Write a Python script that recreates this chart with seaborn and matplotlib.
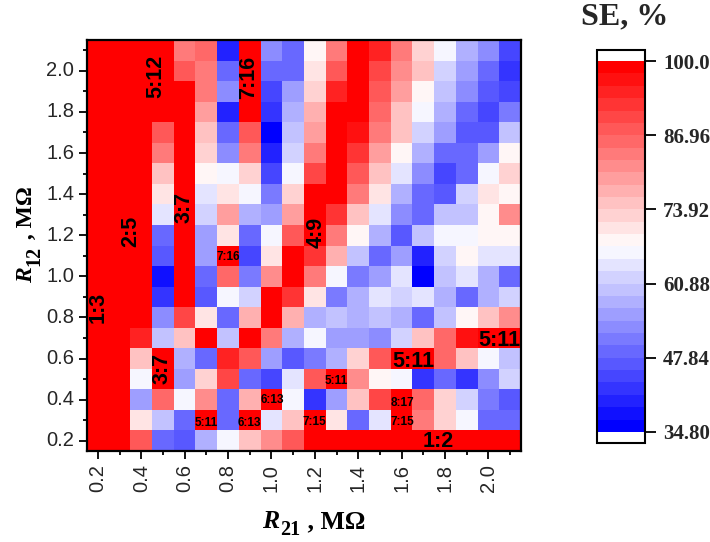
import numpy as np
import pandas as pd
import matplotlib
matplotlib.use("Agg")
import matplotlib.pyplot as plt
import seaborn as sns
from matplotlib.colors import ListedColormap

# Resistances (MΩ)
r21 = [0.2, 0.3, 0.4, 0.5, 0.6, 0.7, 0.8, 0.9, 1.0, 1.1,
       1.2, 1.3, 1.4, 1.5, 1.6, 1.7, 1.8, 1.9, 2.0, 2.1]
r12 = [2.1, 2.0, 1.9, 1.8, 1.7, 1.6, 1.5, 1.4, 1.3, 1.2,
       1.1, 1.0, 0.9, 0.8, 0.7, 0.6, 0.5, 0.4, 0.3, 0.2]

# SE, % — one list per R12 row (top row R12 = 2.1), columns follow r21
se_r12_2_1 = [100, 100, 100, 100, 83.7, 85.9, 40.2, 100, 53.3, 49.0, 68.5, 83.7, 100, 94.6, 83.7, 72.8, 66.3, 57.6, 53.3, 44.6]
se_r12_2_0 = [100, 100, 100, 100, 88.0, 83.7, 49.0, 100, 49.0, 49.0, 70.7, 88.0, 100, 90.2, 81.5, 75.0, 62.0, 55.5, 49.0, 42.4]
se_r12_1_9 = [100, 100, 100, 100, 100, 83.7, 53.3, 100, 44.6, 55.5, 72.8, 94.6, 100, 88.0, 79.4, 68.5, 59.8, 53.3, 46.8, 44.6]
se_r12_1_8 = [100, 100, 100, 100, 100, 79.4, 40.2, 100, 42.4, 57.6, 77.2, 100, 100, 85.9, 75.0, 66.3, 57.6, 49.0, 44.6, 51.1]
se_r12_1_7 = [100, 100, 100, 88.0, 100, 75.0, 49.0, 88.0, 35.9, 59.8, 79.4, 100, 96.7, 83.7, 75.0, 62.0, 55.5, 46.8, 46.8, 59.8]
se_r12_1_6 = [100, 100, 100, 83.7, 100, 72.8, 53.3, 83.7, 40.2, 62.0, 83.7, 100, 92.4, 79.4, 68.5, 57.6, 49.0, 49.0, 55.5, 68.5]
se_r12_1_5 = [100, 100, 100, 75.0, 100, 68.5, 66.3, 72.8, 44.6, 66.3, 90.2, 100, 88.0, 75.0, 64.2, 53.3, 44.6, 49.0, 66.3, 72.8]
se_r12_1_4 = [100, 100, 100, 70.7, 100, 64.2, 70.7, 66.3, 51.1, 72.8, 100, 100, 83.7, 70.7, 57.6, 49.0, 46.8, 62.0, 70.7, 68.5]
se_r12_1_3 = [100, 100, 100, 64.2, 100, 62.0, 79.4, 57.6, 55.5, 79.4, 100, 92.4, 75.0, 64.2, 53.3, 49.0, 59.8, 59.8, 68.5, 81.5]
se_r12_1_2 = [100, 100, 100, 49.0, 100, 55.5, 70.7, 49.0, 66.3, 88.0, 100, 83.7, 68.5, 57.6, 46.8, 59.8, 66.3, 66.3, 68.5, 68.5]
se_r12_1_1 = [100, 100, 100, 46.8, 100, 55.5, 100, 44.6, 70.7, 100, 92.4, 77.2, 59.8, 49.0, 55.5, 40.2, 62.0, 68.5, 64.2, 64.2]
se_r12_1_0 = [100, 100, 100, 38.1, 100, 49.0, 85.9, 51.1, 81.5, 100, 83.7, 66.3, 51.1, 55.5, 64.2, 35.9, 59.8, 64.2, 57.6, 49.0]
se_r12_0_9 = [100, 100, 100, 42.4, 100, 46.8, 66.3, 62.0, 100, 92.4, 70.7, 51.1, 57.6, 64.2, 62.0, 64.2, 57.6, 49.0, 57.6, 62.0]
se_r12_0_8 = [100, 100, 100, 53.3, 90.2, 70.7, 49.0, 77.2, 100, 77.2, 57.6, 59.8, 57.6, 59.8, 57.6, 49.0, 59.8, 68.5, 75.0, 81.5]
se_r12_0_7 = [100, 100, 94.6, 59.8, 75.0, 100, 59.8, 100, 83.7, 57.6, 66.3, 55.5, 55.5, 53.3, 62.0, 75.0, 85.9, 96.7, 100, 100]
se_r12_0_6 = [100, 100, 75.0, 100, 57.6, 49.0, 94.6, 88.0, 55.5, 46.8, 51.1, 57.6, 72.8, 88.0, 100, 100, 85.9, 75.0, 66.3, 59.8]
se_r12_0_5 = [100, 100, 66.3, 100, 55.5, 72.8, 90.2, 49.0, 44.6, 64.2, 88.0, 100, 81.5, 68.5, 66.3, 42.4, 49.0, 42.4, 53.3, 62.0]
se_r12_0_4 = [100, 100, 55.5, 85.9, 66.3, 81.5, 49.0, 77.2, 100, 66.3, 42.4, 55.5, 75.0, 90.2, 100, 85.9, 72.8, 62.0, 51.1, 46.8]
se_r12_0_3 = [100, 100, 70.7, 59.8, 49.0, 100, 49.0, 100, 64.2, 75.0, 100, 70.7, 49.0, 64.2, 100, 83.7, 72.8, 66.3, 49.0, 49.0]
se_r12_0_2 = [100, 100, 88.0, 49.0, 46.8, 57.6, 66.3, 75.0, 81.5, 88.0, 100, 100, 100, 100, 100, 100, 100, 100, 100, 100]

se_rows = [se_r12_2_1, se_r12_2_0, se_r12_1_9, se_r12_1_8, se_r12_1_7,
           se_r12_1_6, se_r12_1_5, se_r12_1_4, se_r12_1_3, se_r12_1_2,
           se_r12_1_1, se_r12_1_0, se_r12_0_9, se_r12_0_8, se_r12_0_7,
           se_r12_0_6, se_r12_0_5, se_r12_0_4, se_r12_0_3, se_r12_0_2]

# Colour scale
se_min, se_max = 34.8, 100.0
cbar_ticks = [34.80, 47.84, 60.88, 73.92, 86.96, 100.0]
cbar_ticklabels = ["34.80", "47.84", "60.88", "73.92", "86.96", "100.0"]
n_levels = 30

# Ratio labels: (text, column position, row position, rotation, size)
ratio_labels = [
    ("5:12", 3.16, 1.75, 90, 15.5),
    ("7:16", 7.45, 1.80, 90, 15.5),
    ("3:7", 4.47, 8.17, 90, 15.5),
    ("2:5", 2.03, 9.30, 90, 15.5),
    ("4:9", 10.55, 9.35, 90, 15.5),
    ("1:3", 0.53, 13.0, 90, 15.5),
    ("3:7", 3.47, 16.0, 90, 15.5),
    ("5:11", 19.0, 14.6, 0, 15.5),
    ("5:11", 15.03, 15.65, 0, 15.5),
    ("1:2", 16.2, 19.55, 0, 15.5),
    ("7:16", 6.5, 10.56, 0, 8.5),
    ("6:13", 8.53, 17.5, 0, 8.5),
    ("5:11", 5.48, 18.65, 0, 8.5),
    ("6:13", 7.5, 18.63, 0, 8.5),
    ("7:15", 10.48, 18.6, 0, 8.5),
    ("5:11", 11.48, 16.6, 0, 8.5),
    ("8:17", 14.53, 17.65, 0, 8.5),
    ("7:15", 14.53, 18.6, 0, 8.5),
]

sns.set_style("ticks")
plt.rcParams.update({
    "font.family": ["Liberation Sans", "DejaVu Sans"],
})

df = pd.DataFrame(se_rows, index=r12, columns=r21)

cmap = ListedColormap(plt.get_cmap("bwr")(np.linspace(0, 1, n_levels)))
cmap = cmap.with_extremes(over="white", under="white")

W, H = 710, 542
fig = plt.figure(figsize=(W / 100, H / 100), dpi=100)
ax = fig.add_axes([87 / W, 1 - 451 / H, 434 / W, 411 / H])
cax = fig.add_axes([597 / W, 1 - 443 / H, 48 / W, 393 / H])

sns.heatmap(df, ax=ax, cbar_ax=cax, cmap=cmap, vmin=se_min, vmax=se_max,
            linewidths=0, square=False,
            cbar_kws=dict(extend="both", extendrect=True, extendfrac=0.03,
                          ticks=cbar_ticks))

# Heatmap frame and ticks
for s in ax.spines.values():
    s.set_visible(True)
    s.set_linewidth(1.6)
    s.set_color("black")

ncol = len(r21)
nrow = len(r12)
x_major = [i + 0.5 for i in range(0, ncol, 2)]
x_minor = [i + 0.5 for i in range(1, ncol, 2)]
ax.set_xticks(x_major)
ax.set_xticks(x_minor, minor=True)
ax.set_xticklabels([f"{r21[i]:.1f}" for i in range(0, ncol, 2)],
                   rotation=90, fontsize=14.5)
y_major = [i + 0.5 for i in range(nrow - 1, -1, -2)]
y_minor = [i + 0.5 for i in range(nrow - 2, -1, -2)]
ax.set_yticks(y_major)
ax.set_yticks(y_minor, minor=True)
ax.set_yticklabels([f"{r12[i]:.1f}" for i in range(nrow - 1, -1, -2)],
                   rotation=0, fontsize=14.5)
ax.tick_params(which="major", direction="out", length=5.8, width=1.3,
               color="black", pad=3.5, bottom=True, left=True)
ax.tick_params(which="minor", direction="out", length=3.0, width=1.3,
               color="black", bottom=True, left=True)
ax.set_xlabel("")
ax.set_ylabel("")

for text, cx, cy, rot, size in ratio_labels:
    ax.text(cx, cy, text, rotation=rot, ha="center", va="center",
            fontsize=size, fontweight="bold", color="black",
            fontfamily="Liberation Sans")

# Colour bar styling
cb = ax.collections[0].colorbar
cb.outline.set_linewidth(1.5)
cb.outline.set_edgecolor("black")
cb.set_ticks(cbar_ticks, labels=cbar_ticklabels)
cb.ax.tick_params(direction="out", length=8, width=1.3, color="black", pad=5,
                  right=True)
for lab in cb.ax.get_yticklabels():
    lab.set_fontfamily("Liberation Serif")
    lab.set_fontweight("bold")
    lab.set_fontsize(15)

fig.text(625 / W, 1 - 17 / H, "SE, %", ha="center", va="center",
         fontsize=23, fontweight="bold", fontfamily="Liberation Serif")

# Axis titles: italic R with a large lowered subscript, then ", MΩ"
serif = dict(fontfamily="Liberation Serif", fontweight="bold", color="black")
main_size, sub_size, sub_drop = 18.5, 14.5, 7

fig.canvas.draw()
renderer = fig.canvas.get_renderer()


def axis_title(x0, y0, sub, rotated, size):
    """Draw 'R_sub , MΩ' starting at pixel (x0, y0) measured from the top-left."""
    rot = 90 if rotated else 0
    common = dict(rotation=rot, rotation_mode="anchor", ha="left",
                  va="baseline", **serif)
    t1 = fig.text(x0 / W, 1 - y0 / H, "R", fontsize=size,
                  fontstyle="italic", **common)
    bb = t1.get_window_extent(renderer)
    if rotated:
        t2 = fig.text((x0 + sub_drop) / W, (bb.y1 + 1) / H, sub,
                      fontsize=sub_size, **common)
        bb2 = t2.get_window_extent(renderer)
        fig.text(x0 / W, (bb2.y1 + 1) / H, " , MΩ", fontsize=size,
                 **common)
    else:
        t2 = fig.text((bb.x1 + 1) / W, 1 - (y0 + sub_drop) / H, sub,
                      fontsize=sub_size, **common)
        bb2 = t2.get_window_extent(renderer)
        fig.text((bb2.x1 + 1) / W, 1 - y0 / H, " , MΩ", fontsize=size,
                 **common)


axis_title(262, 528, "21", rotated=False, size=main_size)
axis_title(32, 283, "12", rotated=True, size=17)

fig.savefig("out.png", dpi=100)
